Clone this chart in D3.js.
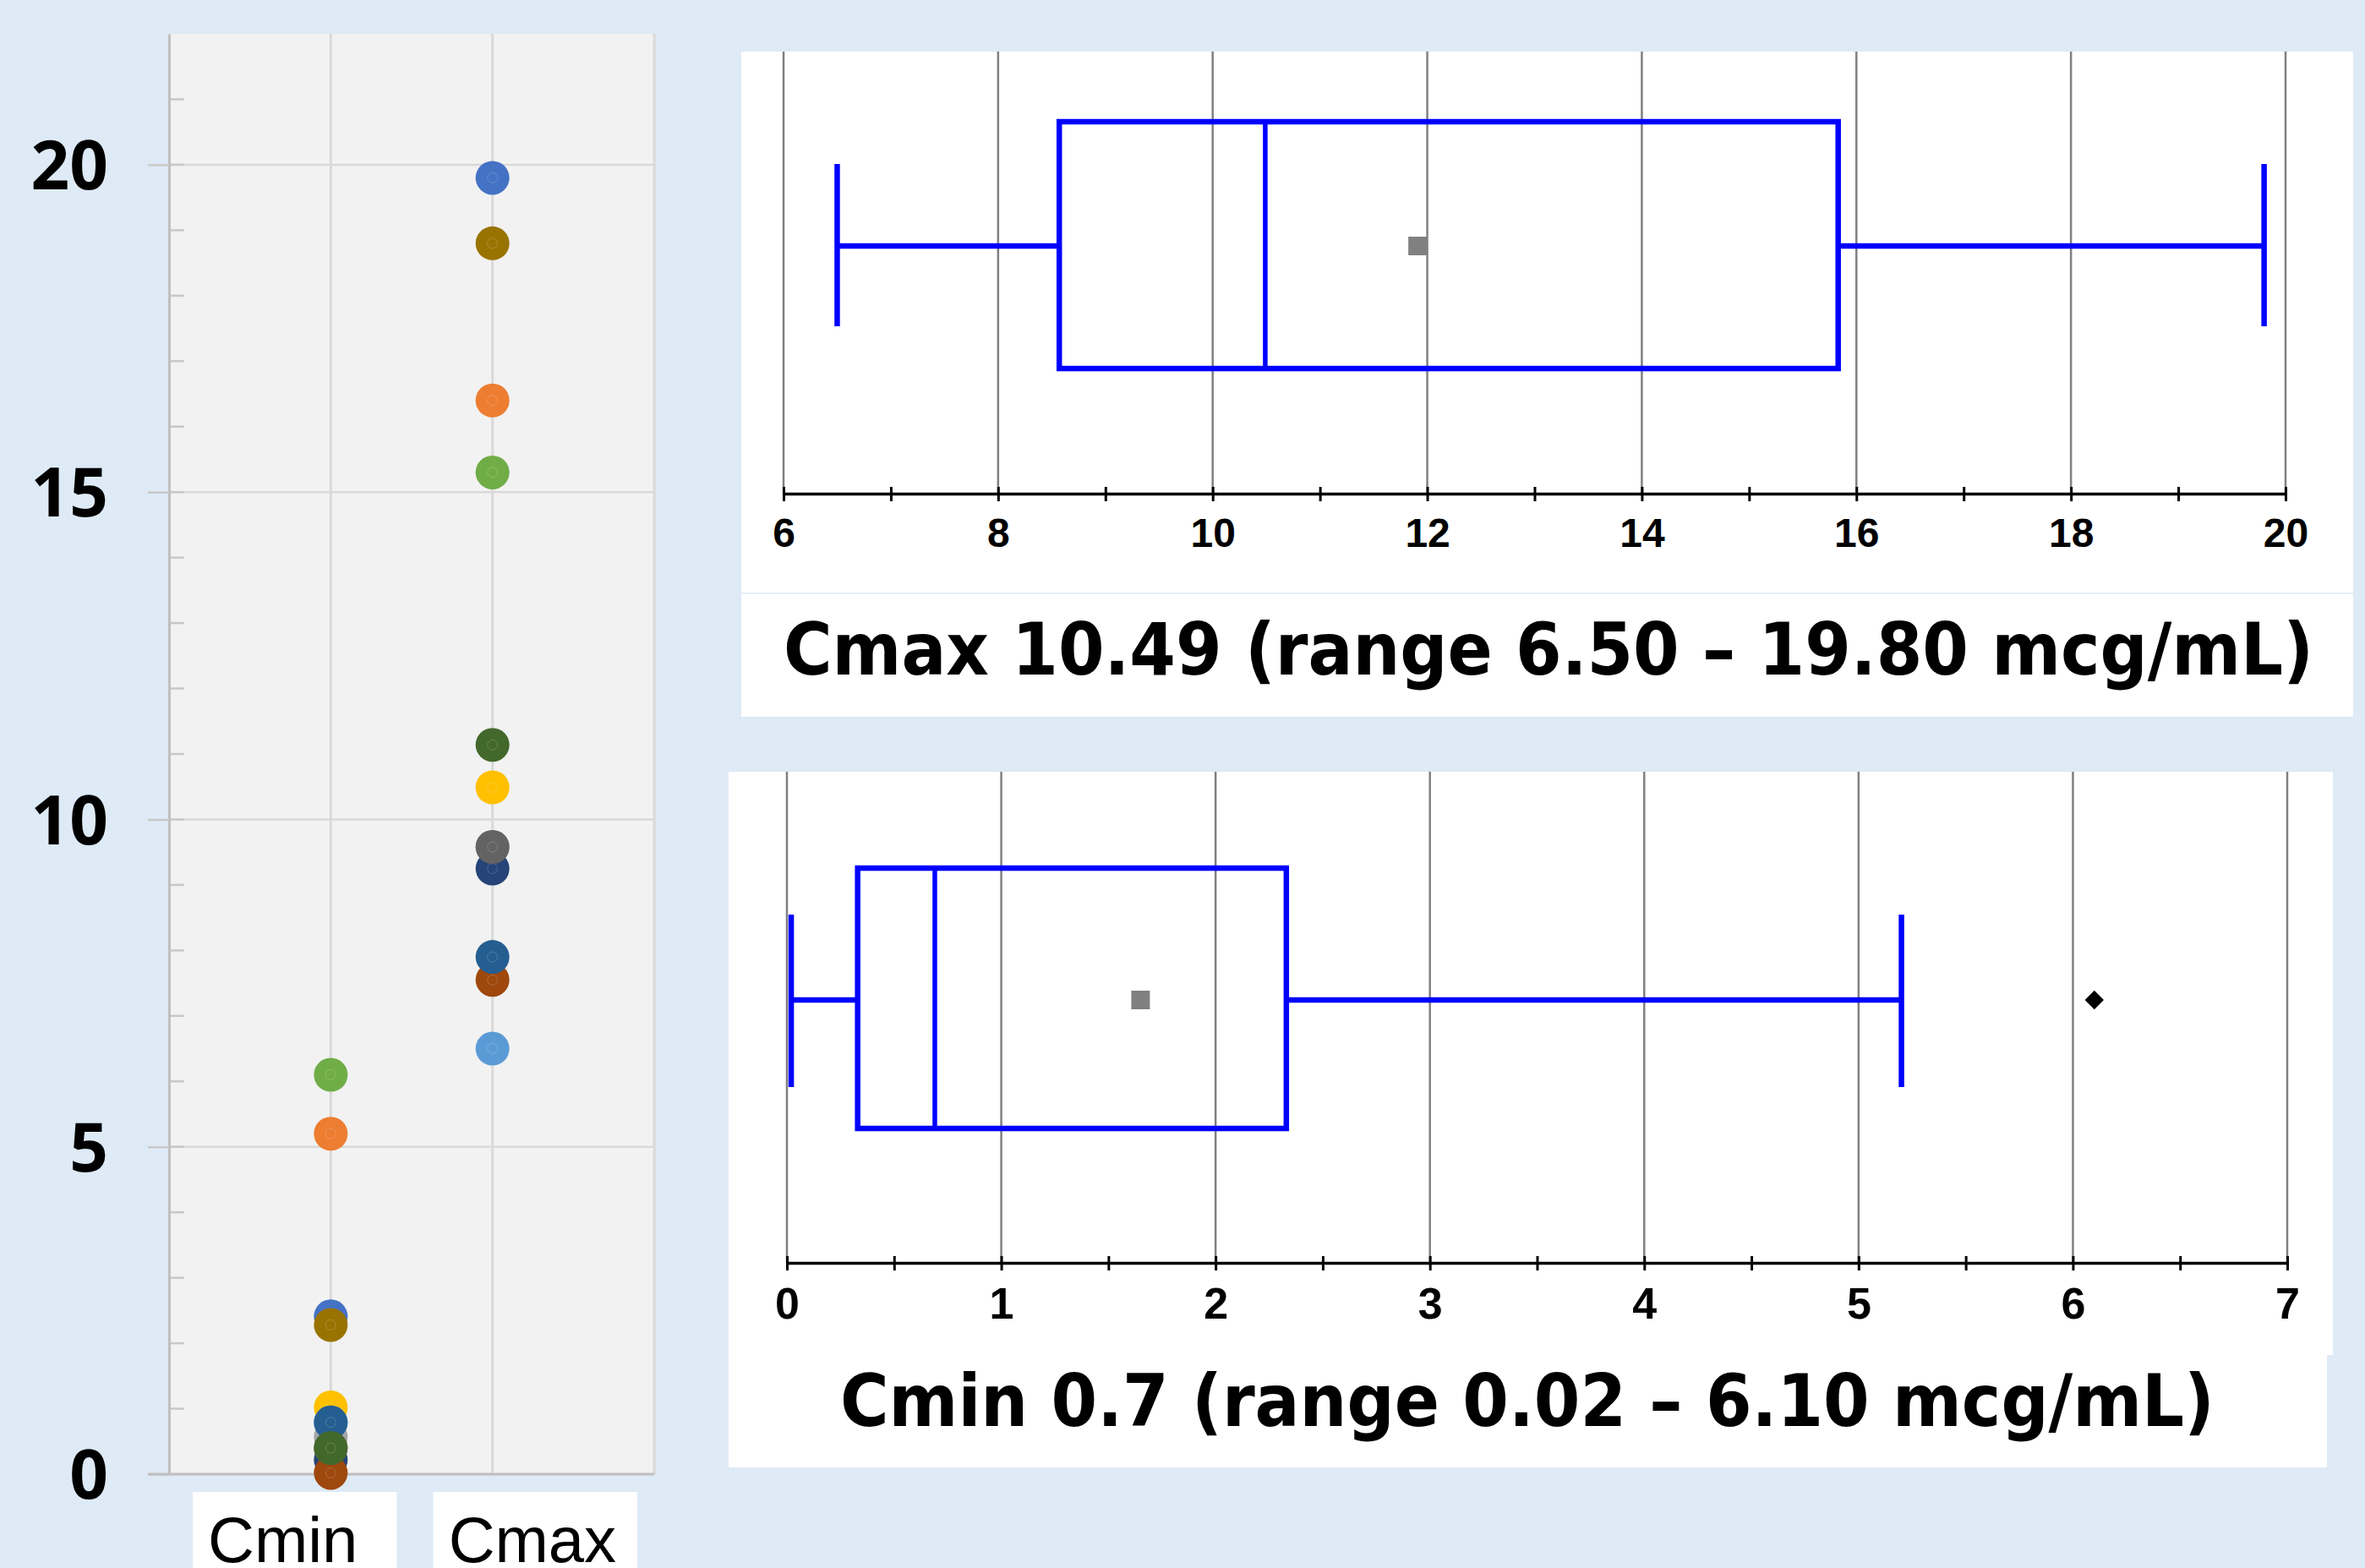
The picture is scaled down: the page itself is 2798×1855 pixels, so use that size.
<!DOCTYPE html>
<html>
<head>
<meta charset="utf-8">
<script src="https://cdn.jsdelivr.net/npm/d3@7"></script>
<style>
  body { margin: 0; background: #deeaf6; }
  svg { display: block; }
</style>
</head>
<body>
<div id="chart"></div>
<script>
// Data
const categories = ["Cmin", "Cmax"];
const seriesColors = ["#4472c4", "#ed7d31", "#a5a5a5", "#ffc000", "#5b9bd5", "#70ad47",
                      "#264478", "#9e480e", "#636363", "#997300", "#255e91", "#43682b"];
const cminValues = [2.41, 5.20, 0.57, 1.02, 0.79, 6.10, 0.22, 0.02, 0.40, 2.28, 0.79, 0.40];
const cmaxValues = [19.80, 16.40, 9.58, 10.49, 6.50, 15.30, 9.25, 7.55, 9.58, 18.80, 7.90, 11.14];
const yTicks = [0, 5, 10, 15, 20];

// box plot summaries: [min whisker, Q1, median, Q3, max whisker]
const cmaxStats = [6.50, 8.57, 10.49, 15.83, 19.80];
const cmaxMean = 11.91;
const cmaxOutliers = [];
const cmaxTicks = [6, 8, 10, 12, 14, 16, 18, 20];
const cmaxTitle = "Cmax 10.49 (range 6.50 \u2013 19.80 mcg/mL)";

const cminStats = [0.02, 0.33, 0.69, 2.33, 5.20];
const cminMean = 1.65;
const cminOutliers = [6.10];
const cminTicks = [0, 1, 2, 3, 4, 5, 6, 7];
const cminTitle = "Cmin 0.7 (range 0.02 \u2013 6.10 mcg/mL)";

const svg = d3.select("#chart")
  .append("svg")
  .attr("width", 2798)
  .attr("height", 1855);

svg.append("rect")
  .attr("width", 2798)
  .attr("height", 1855)
  .attr("fill", "#deeaf6");

// Step 1.
// Dot chart on the left
const dot = { left: 200, right: 774, top: 40, bottom: 1744 };

const yDot = d3.scaleLinear().domain([0, 22]).range([dot.bottom, dot.top]);
const xDot = d3.scalePoint().domain(categories).range([dot.left, dot.right]).padding(1);
// the label boxes sit on their own band, not centred under the points
const xLabel = d3.scaleBand().domain(categories).range([228, 754]).paddingInner(0.152);

svg.append("rect")
  .attr("x", dot.left)
  .attr("y", dot.top)
  .attr("width", dot.right - dot.left)
  .attr("height", dot.bottom - dot.top)
  .attr("fill", "#f2f2f2");

// gridlines
svg.append("g").selectAll("line")
  .data(yTicks)
  .enter()
  .append("line")
  .attr("x1", dot.left)
  .attr("x2", dot.right)
  .attr("y1", d => yDot(d))
  .attr("y2", d => yDot(d))
  .attr("stroke", "#d9d9d9")
  .attr("stroke-width", 2.5);

svg.append("g").selectAll("line")
  .data(categories)
  .enter()
  .append("line")
  .attr("x1", d => xDot(d))
  .attr("x2", d => xDot(d))
  .attr("y1", dot.top)
  .attr("y2", dot.bottom)
  .attr("stroke", "#d9d9d9")
  .attr("stroke-width", 3);

// right border
svg.append("line")
  .attr("x1", dot.right).attr("x2", dot.right)
  .attr("y1", dot.top).attr("y2", dot.bottom)
  .attr("stroke", "#d9d9d9")
  .attr("stroke-width", 3);

// minor ticks (inside)
svg.append("g").selectAll("line")
  .data(d3.range(1, 22))
  .enter()
  .append("line")
  .attr("x1", dot.left)
  .attr("x2", dot.left + 18)
  .attr("y1", d => yDot(d))
  .attr("y2", d => yDot(d))
  .attr("stroke", "#c8c8c8")
  .attr("stroke-width", 2.5);

// y axis
const yAxis = svg.append("g")
  .attr("transform", `translate(${dot.left},0)`)
  .call(d3.axisLeft(yDot).tickValues(yTicks).tickSize(25).tickSizeOuter(0).tickPadding(47).tickFormat(d3.format("d")));

yAxis.select(".domain").attr("stroke", "#bfbfbf").attr("stroke-width", 3);
yAxis.selectAll(".tick line").attr("stroke", "#c8c8c8").attr("stroke-width", 2.5);
yAxis.selectAll(".tick text")
  .attr("fill", "#000")
  .attr("dy", "0.36em")
  .style("font-family", "'Noto Sans', sans-serif")
  .style("font-weight", "bold")
  .style("font-size", "80px");

// bottom axis line
svg.append("line")
  .attr("x1", dot.left - 25).attr("x2", dot.right)
  .attr("y1", dot.bottom).attr("y2", dot.bottom)
  .attr("stroke", "#bfbfbf")
  .attr("stroke-width", 3);

// points, series by series
const seriesData = seriesColors.map((c, i) => ({ color: c, Cmin: cminValues[i], Cmax: cmaxValues[i] }));

seriesData.forEach(s => {
  const g = svg.append("g");
  g.selectAll("circle.pt")
    .data(categories)
    .enter()
    .append("circle")
    .attr("class", "pt")
    .attr("cx", d => xDot(d))
    .attr("cy", d => yDot(s[d]))
    .attr("r", 20)
    .attr("fill", s.color);
  g.selectAll("circle.ring")
    .data(categories)
    .enter()
    .append("circle")
    .attr("class", "ring")
    .attr("cx", d => xDot(d))
    .attr("cy", d => yDot(s[d]))
    .attr("r", 6)
    .attr("fill", "none")
    .attr("stroke", "rgba(255,255,255,0.18)")
    .attr("stroke-width", 1);
});

// category labels in white boxes
const catBoxes = svg.append("g").selectAll("g")
  .data(categories)
  .enter()
  .append("g");

catBoxes.append("rect")
  .attr("x", d => xLabel(d))
  .attr("y", 1765)
  .attr("width", xLabel.bandwidth())
  .attr("height", 100)
  .attr("fill", "#fff");

catBoxes.append("text")
  .attr("x", d => xLabel(d) + 18)
  .attr("y", 1848)
  .attr("fill", "#000")
  .style("font-family", "'Liberation Sans', Arial, sans-serif")
  .style("font-size", "76px")
  .text(d => d);

// Step 2.
// Box plots on the right
function drawBoxPanel(p, stats, mean, outliers, ticks, title) {
  const g = svg.append("g");

  p.rects.forEach(r => {
    g.append("rect")
      .attr("x", r[0]).attr("y", r[1])
      .attr("width", r[2] - r[0]).attr("height", r[3] - r[1])
      .attr("fill", "#fff");
  });

  if (p.sep) {
    g.append("line")
      .attr("x1", p.rects[0][0]).attr("x2", p.rects[0][2])
      .attr("y1", p.sep).attr("y2", p.sep)
      .attr("stroke", "#e6eef8")
      .attr("stroke-width", 2);
  }

  const x = d3.scaleLinear().domain(d3.extent(ticks)).range(p.range);
  const step = (ticks[1] - ticks[0]) / 2;
  const allTicks = d3.range(ticks[0], ticks[ticks.length - 1] + step / 2, step);

  // gridlines
  g.append("g").selectAll("line")
    .data(ticks)
    .enter()
    .append("line")
    .attr("x1", d => x(d))
    .attr("x2", d => x(d))
    .attr("y1", p.rects[0][1])
    .attr("y2", p.axisY)
    .attr("stroke", "#808080")
    .attr("stroke-width", 2.5);

  const axis = g.append("g")
    .attr("transform", `translate(0,${p.axisY})`)
    .call(d3.axisBottom(x).tickValues(allTicks).tickSizeInner(9).tickSizeOuter(0)
      .tickFormat(d => ticks.includes(d) ? d : ""));

  axis.select(".domain").attr("stroke", "#000").attr("stroke-width", 3.5);
  axis.selectAll(".tick line").attr("y1", -8).attr("stroke", "#000").attr("stroke-width", 3);
  axis.selectAll(".tick text")
    .attr("y", p.labelY)
    .attr("fill", "#000")
    .style("font-family", "'Liberation Sans', Arial, sans-serif")
    .style("font-weight", "bold")
    .style("font-size", p.labelSize + "px");

  const blue = "#0000ff";
  const sw = 6.5;

  // whiskers
  g.append("line")
    .attr("x1", x(stats[0])).attr("x2", x(stats[1]))
    .attr("y1", p.midY).attr("y2", p.midY)
    .attr("stroke", blue).attr("stroke-width", sw);
  g.append("line")
    .attr("x1", x(stats[3])).attr("x2", x(stats[4]))
    .attr("y1", p.midY).attr("y2", p.midY)
    .attr("stroke", blue).attr("stroke-width", sw);
  g.selectAll("line.cap")
    .data([stats[0], stats[4]])
    .enter()
    .append("line")
    .attr("class", "cap")
    .attr("x1", d => x(d)).attr("x2", d => x(d))
    .attr("y1", p.capTop).attr("y2", p.capBottom)
    .attr("stroke", blue).attr("stroke-width", sw);

  // box + median
  g.append("rect")
    .attr("x", x(stats[1]))
    .attr("y", p.boxTop)
    .attr("width", x(stats[3]) - x(stats[1]))
    .attr("height", p.boxBottom - p.boxTop)
    .attr("fill", "none")
    .attr("stroke", blue).attr("stroke-width", sw);
  g.append("line")
    .attr("x1", x(stats[2])).attr("x2", x(stats[2]))
    .attr("y1", p.boxTop).attr("y2", p.boxBottom)
    .attr("stroke", blue).attr("stroke-width", 5.5);

  // mean marker
  g.append("rect")
    .attr("x", x(mean) - 11)
    .attr("y", p.midY - 11)
    .attr("width", 22)
    .attr("height", 22)
    .attr("fill", "#808080");

  // outliers
  g.selectAll("path.out")
    .data(outliers)
    .enter()
    .append("path")
    .attr("class", "out")
    .attr("d", d3.symbol(d3.symbolSquare, 250))
    .attr("transform", d => `translate(${x(d)},${p.midY}) rotate(45)`)
    .attr("fill", "#000");

  // title
  g.append("text")
    .attr("x", p.titleX)
    .attr("y", p.titleY)
    .attr("textLength", p.titleLen)
    .attr("lengthAdjust", "spacingAndGlyphs")
    .attr("fill", "#000")
    .style("font-family", "'DejaVu Sans', Verdana, sans-serif")
    .style("font-weight", "bold")
    .style("font-size", "86px")
    .text(title);
}

drawBoxPanel({
  rects: [[877, 61, 2784, 848]],
  sep: 702,
  axisY: 584,
  range: [927, 2704],
  labelY: 29,
  labelSize: 48,
  boxTop: 144, boxBottom: 436,
  capTop: 194, capBottom: 386,
  midY: 291,
  titleX: 927, titleY: 798, titleLen: 1810
}, cmaxStats, cmaxMean, cmaxOutliers, cmaxTicks, cmaxTitle);

drawBoxPanel({
  rects: [[862, 913, 2760, 1603], [862, 1600, 2753, 1736]],
  sep: null,
  axisY: 1494,
  range: [931, 2706],
  labelY: 29,
  labelSize: 52,
  boxTop: 1027, boxBottom: 1335,
  capTop: 1082, capBottom: 1286,
  midY: 1183,
  titleX: 994, titleY: 1687, titleLen: 1626
}, cminStats, cminMean, cminOutliers, cminTicks, cminTitle);
</script>
</body>
</html>
